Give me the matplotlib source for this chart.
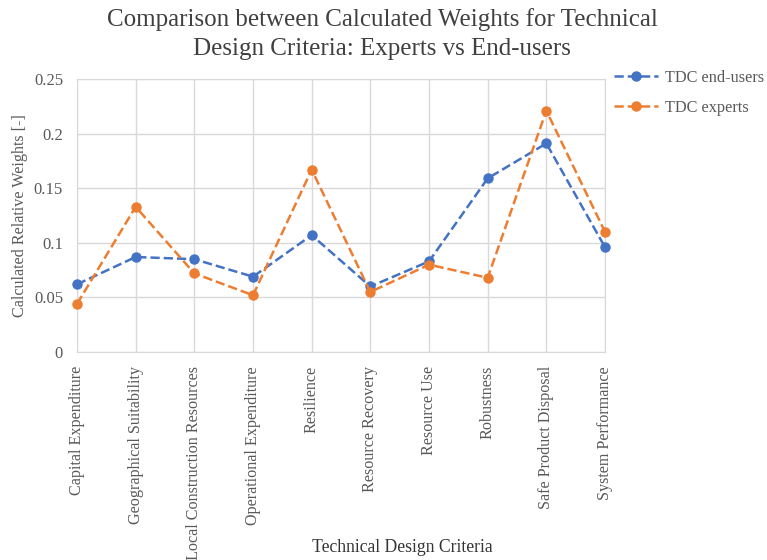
import matplotlib.pyplot as plt

criteria = ['Capital Expenditure', 'Geographical Suitability', 'Local Construction Resources',
            'Operational Expenditure', 'Resilience', 'Resource Recovery', 'Resource Use',
            'Robustness', 'Safe Product Disposal', 'System Performance']
tdc_end_users = [0.062, 0.087, 0.085, 0.069, 0.107, 0.060, 0.083, 0.159, 0.191, 0.096]
tdc_experts = [0.044, 0.133, 0.072, 0.052, 0.167, 0.055, 0.080, 0.068, 0.221, 0.110]
y_ticks = [0, 0.05, 0.1, 0.15, 0.2, 0.25]
y_tick_labels = ['0', '0.05', '0.1', '0.15', '0.2', '0.25']

plt.rcParams['font.family'] = ['Liberation Serif', 'DejaVu Serif']
grey = '#595959'
grid_col = '#d9d9d9'

fig = plt.figure(figsize=(7.67, 5.6), dpi=100)
ax = fig.add_axes([0.1004, 0.3714, 0.6884, 0.4875])

x = range(len(criteria))
ax.plot(x, tdc_end_users, '--o', color='#4472c4', lw=1.8, ms=6.5, label='TDC end-users', clip_on=False, zorder=3)
ax.plot(x, tdc_experts, '--o', color='#ed7d31', lw=1.8, ms=6.5, label='TDC experts', clip_on=False, zorder=3)

ax.set_xlim(0, len(criteria) - 1)
ax.set_ylim(0, 0.25)
ax.set_xticks(list(x))
ax.set_xticklabels(criteria, rotation=90, fontsize=11.6, color=grey)
ax.set_yticks(y_ticks)
ax.set_yticklabels(y_tick_labels, fontsize=12, color=grey)
ax.tick_params(axis='x', length=0, pad=10)
ax.tick_params(axis='y', length=0, pad=10)
ax.grid(True, color=grid_col, lw=1)
for s in ax.spines.values():
    s.set_color(grid_col)

ax.set_ylabel('Calculated Relative Weights [-]', fontsize=11.6, color=grey, labelpad=4)
fig.text(0.524, 0.022, 'Technical Design Criteria', ha='center', va='center',
         fontsize=12.7, color='#333333')

fig.suptitle('Comparison between Calculated Weights for Technical\nDesign Criteria: Experts vs End-users',
             x=0.498, y=0.985, fontsize=18, color='#404040', linespacing=1.4)

fig.legend(loc='upper left', bbox_to_anchor=(0.782, 0.901), frameon=False, fontsize=11.7,
           labelcolor=grey, handlelength=2.7, handletextpad=0.4, labelspacing=0.85)

fig.savefig('out.png', dpi=100)
